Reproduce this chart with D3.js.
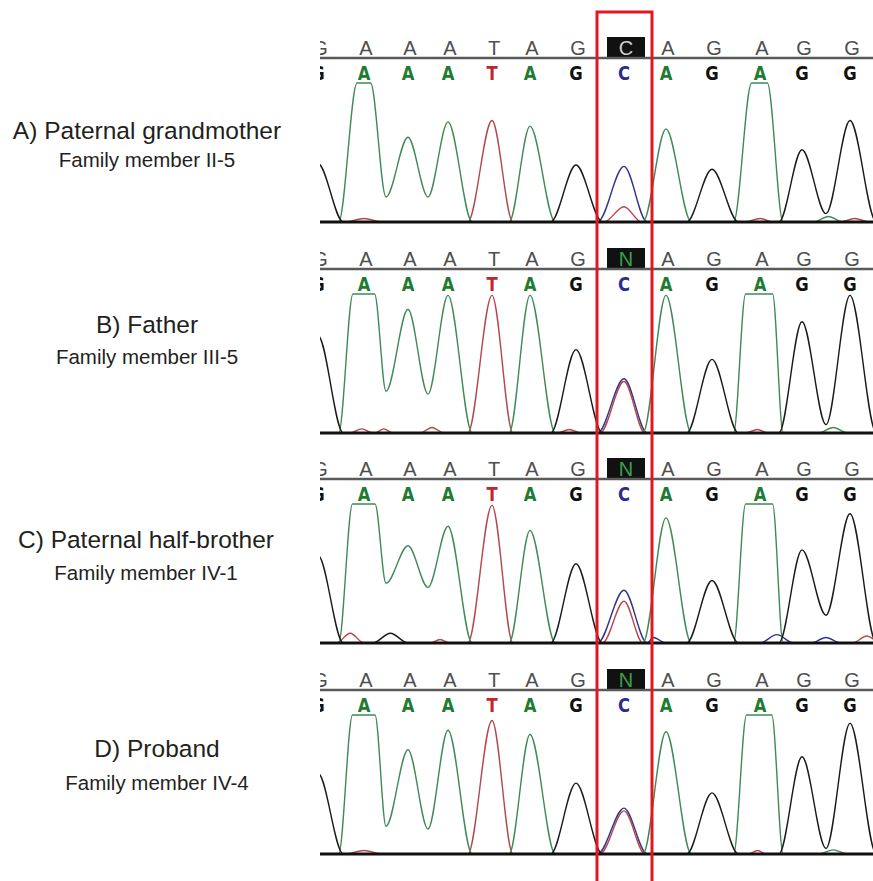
<!DOCTYPE html>
<html>
<head>
<meta charset="utf-8">
<script src="https://cdn.jsdelivr.net/npm/d3@7/dist/d3.min.js"></script>
<style>
  body { margin: 0; background: #fff; }
  svg { display: block; }
</style>
</head>
<body>
<svg id="chart" width="873" height="881"></svg>
<script>
// called bases, same in every read
var bases = ['G', 'A', 'A', 'A', 'T', 'A', 'G', 'C', 'A', 'G', 'A', 'G', 'G']
// scan number of each called peak
var baseScan = [999.5, 1011, 1022, 1032, 1043, 1052.5, 1064, 1076, 1086.5, 1098, 1110, 1120.5, 1132.5]
// reference row above the line (position 7 shows the call)
var refRowA = ['G', 'A', 'A', 'A', 'T', 'A', 'G', 'C', 'A', 'G', 'A', 'G', 'G']
var refRowN = ['G', 'A', 'A', 'A', 'T', 'A', 'G', 'N', 'A', 'G', 'A', 'G', 'G']

var titles = ['A) Paternal grandmother', 'B) Father', 'C) Paternal half-brother', 'D) Proband']
var members = ['Family member II-5', 'Family member III-5', 'Family member IV-1', 'Family member IV-4']

// height of each called peak, % of the display ceiling (over 100 = clipped flat top)
var peaksA = [42, 130, 61, 72, 73, 69, 41, 40, 67, 38, 135, 52, 73]
var peaksB = [70, 148, 89, 99, 99, 99, 60, 39, 99, 53, 160, 80, 99]
var peaksC = [63, 150, 70, 84, 99, 81, 57, 38, 90, 45, 160, 67, 93]
var peaksD = [58, 150, 75, 89, 96, 86, 51, 33, 88, 44, 156, 70, 94]

// trough between two neighbouring peaks of one dye: [after base, height]
var dipsA = [[1, 18], [2, 18], [11, 6]]
var dipsB = [[1, 30], [2, 28], [11, 6]]
var dipsC = [[1, 43], [2, 40], [11, 20]]
var dipsD = [[1, 20], [2, 18], [11, 4]]

// secondary / background peaks: [base position, dye, height, half width]
var minorA = [[7, 'T', 11, 0.42], [1, 'T', 2.5, 0.4], [10, 'T', 2.5, 0.3], [11.55, 'A', 4, 0.3], [12.1, 'T', 2.5, 0.3]]
var minorB = [[7, 'T', 37, 0.5], [0.95, 'T', 3, 0.25], [1.45, 'T', 3, 0.2], [2.6, 'T', 4, 0.3], [5.85, 'T', 2.5, 0.25], [9.95, 'T', 2.5, 0.25], [11.65, 'A', 4, 0.3]]
var minorC = [[7, 'T', 30, 0.45], [0.7, 'T', 7, 0.3], [1.6, 'G', 7, 0.4], [2.8, 'T', 2.5, 0.25], [7.7, 'C', 4, 0.3], [10.4, 'C', 6, 0.4], [11.5, 'C', 4, 0.3], [12.35, 'T', 5, 0.3]]
var minorD = [[7, 'T', 31, 0.5], [1, 'T', 2.5, 0.4], [9.95, 'T', 2.5, 0.2], [11.65, 'A', 3, 0.3]]

var panels = [
  {peaks: peaksA, dips: dipsA, minor: minorA, ref: refRowA},
  {peaks: peaksB, dips: dipsB, minor: minorB, ref: refRowN},
  {peaks: peaksC, dips: dipsC, minor: minorC, ref: refRowN},
  {peaks: peaksD, dips: dipsD, minor: minorD, ref: refRowN}
]

var traceColor = {A: '#3f8a56', T: '#b4474e', G: '#1a1a1a', C: '#33338a'}
var callColor = {A: '#1f7a32', T: '#c0262e', G: '#111111', C: '#2c2c90'}

var svg = d3.select('#chart')
var left = 320, right = 873

var x = d3.scaleLinear().domain([1000, 1138]).range([left, left + 552])
var idxScan = d3.scaleLinear().domain(d3.range(bases.length)).range(baseScan)

function tracePoints (dye, p) {
  var items = []
  bases.forEach(function (b, i) {
    if (b === dye) items.push({i: i, h: p.peaks[i], w: 0.55, main: true})
  })
  p.minor.forEach(function (m) {
    if (m[1] === dye) items.push({i: m[0], h: m[2], w: m[3]})
  })
  items.sort(function (a, b) { return a.i - b.i })

  var pts = [[-0.9, 0]]
  function push (px, py) {
    if (px > pts[pts.length - 1][0] + 0.01) pts.push([px, py])
  }
  items.forEach(function (d, k) {
    var prev = items[k - 1], next = items[k + 1]
    var dipIn = prev && prev.main && d.main && d.i === prev.i + 1 &&
      p.dips.find(function (v) { return v[0] === prev.i })
    var dipOut = next && next.main && d.main && next.i === d.i + 1 &&
      p.dips.find(function (v) { return v[0] === d.i })
    if (!dipIn) push(d.i - d.w, 0)
    if (d.h > 100) {
      var f = (d.h - 100) / 200
      push(d.i - f, 100)
      push(d.i + f, 100)
    } else {
      push(d.i, d.h)
    }
    if (dipOut) push(d.i + 0.5, dipOut[1])
    else push(d.i + d.w, 0)
  })
  push(bases.length + 0.2, 0)
  return pts
}

panels.forEach(function (p, k) {
  var base = Math.round(222 + k * 210.5)
  var lineY = base - 164
  var y = d3.scaleLinear().domain([0, 100]).range([base, base - 139])

  var clipId = 'clip' + k
  svg.append('clipPath').attr('id', clipId)
    .append('rect')
    .attr('x', left).attr('y', lineY - 30)
    .attr('width', right - left).attr('height', 200)

  var g = svg.append('g').attr('clip-path', 'url(#' + clipId + ')')

  var line = d3.line()
    .x(function (d) { return x(idxScan(d[0])) })
    .y(function (d) { return y(d[1]) })
    .curve(d3.curveMonotoneX)

  ;['C', 'T', 'A', 'G'].forEach(function (dye) {
    g.append('path')
      .attr('d', line(tracePoints(dye, p)))
      .attr('fill', 'none')
      .attr('stroke', traceColor[dye])
      .attr('stroke-width', 1.4)
      .attr('stroke-linejoin', 'round')
  })

  // header line and reference letters
  svg.append('line')
    .attr('x1', left).attr('x2', right)
    .attr('y1', lineY).attr('y2', lineY)
    .attr('stroke', '#5a5a5a').attr('stroke-width', 2.4)

  g.append('rect')
    .attr('x', x(idxScan(7)) - 17).attr('y', lineY - 21)
    .attr('width', 38).attr('height', 20)
    .attr('fill', '#111')

  g.selectAll('.ref')
    .data(p.ref)
    .enter().append('text')
    .attr('class', 'ref')
    .attr('x', function (d, i) { return x(idxScan(i)) + 2 })
    .attr('y', lineY - 3)
    .attr('text-anchor', 'middle')
    .attr('font-family', 'Liberation Sans, Arial, sans-serif')
    .attr('font-size', 20)
    .attr('fill', function (d, i) {
      if (i !== 7) return '#4e4e4e'
      return d === 'N' ? '#3aa04e' : '#cfcfcf'
    })
    .text(function (d) { return d })

  // called bases
  g.selectAll('.call')
    .data(bases)
    .enter().append('text')
    .attr('class', 'call')
    .attr('transform', function (d, i) {
      return 'translate(' + x(idxScan(i)) + ',' + (lineY + 22) + ') scale(0.82,1)'
    })
    .attr('text-anchor', 'middle')
    .attr('font-family', 'DejaVu Sans, sans-serif')
    .attr('font-weight', 'bold')
    .attr('font-size', 20)
    .attr('fill', function (d) { return callColor[d] })
    .text(function (d) { return d })

  svg.append('line')
    .attr('x1', left).attr('x2', right)
    .attr('y1', base).attr('y2', base)
    .attr('stroke', '#111').attr('stroke-width', 3)
})

// panel labels
var titleY = [139, 333, 548, 757]
var memberY = [167, 364, 580, 790]
var labelX = [147, 147, 146, 157]

svg.selectAll('.title')
  .data(titles)
  .enter().append('text')
  .attr('x', function (d, i) { return labelX[i] })
  .attr('y', function (d, i) { return titleY[i] })
  .attr('text-anchor', 'middle')
  .attr('font-family', 'Liberation Sans, Arial, sans-serif')
  .attr('font-size', 24.5)
  .attr('fill', '#231f20')
  .text(function (d) { return d })

svg.selectAll('.member')
  .data(members)
  .enter().append('text')
  .attr('x', function (d, i) { return labelX[i] })
  .attr('y', function (d, i) { return memberY[i] })
  .attr('text-anchor', 'middle')
  .attr('font-family', 'Liberation Sans, Arial, sans-serif')
  .attr('font-size', 20.5)
  .attr('fill', '#231f20')
  .text(function (d) { return d })

// highlighted variant position
svg.append('rect')
  .attr('x', x(idxScan(7)) - 27).attr('y', 12)
  .attr('width', 55).attr('height', 880)
  .attr('fill', 'none')
  .attr('stroke', '#e3171f')
  .attr('stroke-width', 3)
</script>
</body>
</html>
